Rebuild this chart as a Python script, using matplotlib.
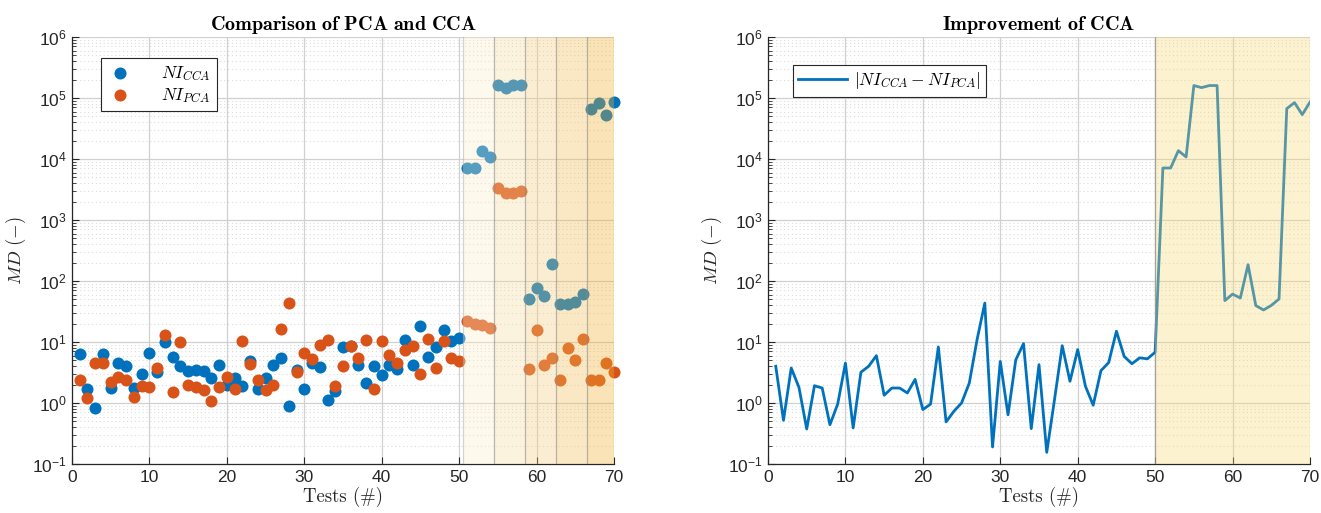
import numpy as np
import matplotlib
matplotlib.use("Agg")
import matplotlib.pyplot as plt
from matplotlib.ticker import LogLocator, FixedLocator, NullFormatter, LogFormatterSciNotation

plt.rcParams['font.family'] = ['Liberation Sans', 'DejaVu Sans']
plt.rcParams['mathtext.fontset'] = 'custom'
plt.rcParams['mathtext.rm'] = 'Liberation Sans'
plt.rcParams['mathtext.it'] = 'Liberation Sans:italic'
plt.rcParams['mathtext.bf'] = 'Liberation Sans:bold'

# ---------------- data ----------------
tests = list(range(1, 71))

ni_cca = [6.4, 1.7, 0.83, 6.4, 1.76, 4.6, 4.0, 1.76, 3.0, 6.5,
          3.2, 9.9, 5.6, 4.1, 3.3, 3.5, 3.4, 2.6, 4.2, 2.0,
          2.6, 1.9, 4.8, 1.7, 2.6, 4.2, 5.5, 0.9, 3.5, 1.7,
          4.5, 3.9, 1.13, 1.55, 8.2, 8.6, 4.2, 2.15, 4.0, 2.9,
          4.2, 3.6, 10.9, 4.2, 18, 5.6, 8.3, 15.9, 10.5, 11.6,
          7100, 7100, 13700, 10800, 161000, 146000, 161000, 161000, 50.7, 76.8,
          56, 190, 42, 42, 44.8, 62, 67000, 84000, 52500, 87500]

ni_pca = [2.35, 1.19, 4.5, 4.5, 2.2, 2.67, 2.35, 1.27, 1.92, 1.85,
          3.75, 13, 1.5, 10.1, 1.97, 1.8, 1.63, 1.08, 1.8, 2.67,
          1.7, 10.3, 4.3, 2.4, 1.63, 2.0, 16.3, 44, 3.26, 6.6,
          5.3, 8.8, 10.6, 1.9, 4.0, 8.6, 5.5, 10.8, 1.7, 10.5,
          6.2, 4.6, 7.3, 8.7, 3.0, 11, 3.8, 10.3, 5.4, 4.9,
          22.4, 19.7, 18.7, 17.2, 3350, 2740, 2760, 2950, 3.57, 15.6,
          4.15, 5.4, 2.38, 8.0, 5.07, 11, 2.38, 2.38, 4.5, 3.2]

improvement = [4.0, 0.52, 3.75, 1.8, 0.375, 1.92, 1.76, 0.44, 0.96, 4.5,
               0.39, 3.2, 4.0, 5.97, 1.34, 1.76, 1.76, 1.46, 2.44, 0.78,
               0.96, 8.3, 0.49, 0.73, 1.0, 2.13, 10.9, 43.5, 0.19, 4.8,
               0.64, 5.1, 9.4, 0.38, 4.25, 0.155, 1.13, 8.7, 2.27, 7.5,
               1.88, 0.92, 3.39, 4.6, 15, 5.8, 4.4, 5.5, 5.3, 6.8,
               7120, 7120, 13700, 10800, 160000, 148000, 160000, 160000, 47.7, 61,
               52.6, 185, 39.5, 33.5, 39.8, 50.7, 67000, 84000, 53400, 86000]

x_ticks = [0, 10, 20, 30, 40, 50, 60, 70]
band_edges = [50.5, 54.5, 58.5, 62.5, 66.5, 70]

# ---------------- style ----------------
C_BLUE = '#0072BD'
C_ORANGE = '#D95319'
BAND_COLORS = ['#FCEEC9', '#F8DEA3', '#F5CE7D', '#F1BF57', '#EEAF31']
BAND_ALPHA = 0.35
C_RIGHT_BAND = '#F9DA79'

fig = plt.figure(figsize=(13.21, 5.13), dpi=100)
ax1 = fig.add_axes([72/1321, 49/513, 542/1321, 427/513])
ax2 = fig.add_axes([768/1321, 49/513, 542/1321, 427/513])


def style_axes(ax):
    ax.set_yscale('log')
    ax.set_xlim(0, 70)
    ax.set_ylim(1e-1, 1e6)
    ax.xaxis.set_major_locator(FixedLocator(x_ticks))
    ax.yaxis.set_major_locator(LogLocator(base=10, numticks=20))
    ax.yaxis.set_minor_locator(LogLocator(base=10, subs=np.arange(2, 10), numticks=20))
    ax.yaxis.set_minor_formatter(NullFormatter())
    ax.yaxis.set_major_formatter(LogFormatterSciNotation())
    for s in ['top', 'right']:
        ax.spines[s].set_visible(False)
    for s in ['left', 'bottom']:
        ax.spines[s].set_color('#262626')
        ax.spines[s].set_linewidth(0.9)
    ax.tick_params(axis='both', which='major', direction='in', length=5,
                   width=0.8, colors='#262626', labelsize=12.5, pad=4)
    ax.tick_params(axis='y', which='minor', direction='in', length=3,
                   width=0.6, colors='#262626')
    ax.grid(True, which='major', color='#D0D0D0', linewidth=0.9, linestyle='-')
    ax.grid(True, which='minor', axis='y', color='#DCDCDC', linewidth=0.8,
            linestyle=(0, (1, 2.5)))
    ax.set_axisbelow(True)
    ax.set_xlabel('Tests (#)', fontsize=13.5, fontfamily='cmr10',
                  color='#262626', labelpad=1.5)
    ax.set_ylabel(r'$MD\ (-)$', fontsize=13.5, math_fontfamily='cm',
                  color='#262626', labelpad=3)


style_axes(ax1)
style_axes(ax2)

# ---------------- left plot ----------------
ax1.scatter(tests, ni_cca, s=75, color=C_BLUE, zorder=2, clip_on=False,
            linewidths=0, label=r'$NI_{CCA}$')
ax1.scatter(tests, ni_pca, s=75, color=C_ORANGE, zorder=2, clip_on=False,
            linewidths=0, label=r'$NI_{PCA}$')
for k in range(len(band_edges) - 1):
    ax1.axvspan(band_edges[k], band_edges[k + 1], facecolor=BAND_COLORS[k],
                alpha=BAND_ALPHA, edgecolor='none', zorder=3)
    ax1.axvline(band_edges[k], color='#8C8C8C', linewidth=0.9,
                alpha=0.35 if k == 0 else 0.6, zorder=3)

ax1.set_title(r'$\mathbf{Comparison\ of\ PCA\ and\ CCA}$', fontsize=14.5,
              math_fontfamily='cm', pad=5, color='#000000')
leg1 = ax1.legend(loc='upper left', bbox_to_anchor=(0.0535, 0.951),
                  borderaxespad=0, fancybox=False, edgecolor='#262626',
                  framealpha=1, fontsize=12.5, handletextpad=1.6,
                  borderpad=0.35, labelspacing=0.15, handlelength=1.5,
                  scatterpoints=1)
leg1.get_frame().set_linewidth(0.8)
leg1.set_zorder(5)
for t in leg1.get_texts():
    t.set_math_fontfamily('cm')

# ---------------- right plot ----------------
ax2.plot(tests, improvement, color=C_BLUE, linewidth=2.0, zorder=2,
         label=r'$|NI_{CCA}-NI_{PCA}|$')
ax2.axvspan(50, 70, facecolor=C_RIGHT_BAND, alpha=BAND_ALPHA, edgecolor='none',
            zorder=3)
ax2.axvline(50, color='#8C8C8C', linewidth=0.9, alpha=0.7, zorder=3)
ax2.set_title(r'$\mathbf{Improvement\ of\ CCA}$', fontsize=14.5,
              math_fontfamily='cm', pad=5, color='#000000')
leg2 = ax2.legend(loc='upper left', bbox_to_anchor=(0.046, 0.934),
                  borderaxespad=0, fancybox=False, edgecolor='#262626',
                  framealpha=1, fontsize=12.5, handletextpad=0.4,
                  borderpad=0.3, handlelength=2.8)
leg2.get_frame().set_linewidth(0.8)
leg2.set_zorder(5)
for t in leg2.get_texts():
    t.set_math_fontfamily('cm')

fig.savefig('out.png', dpi=100)
